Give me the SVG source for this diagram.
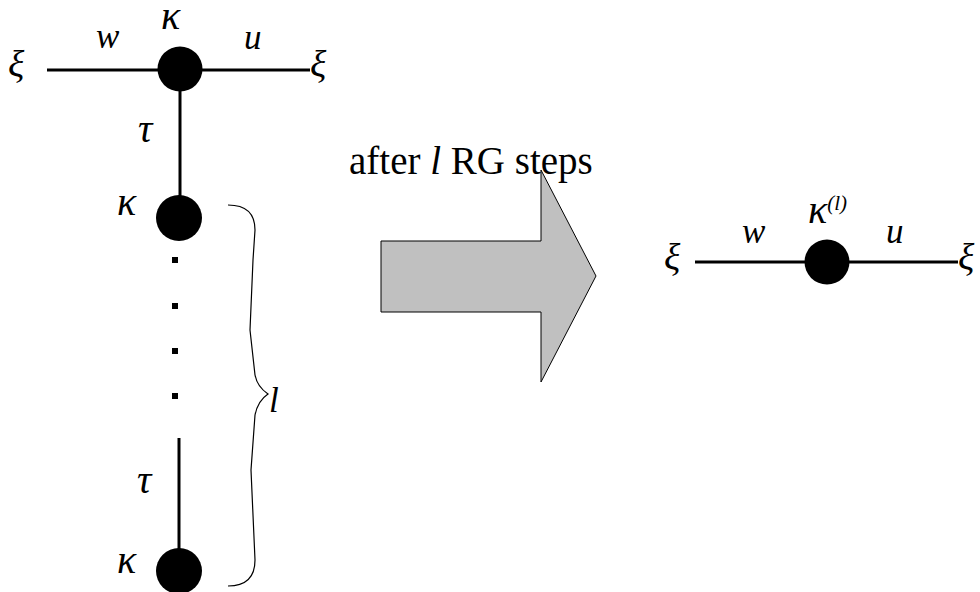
<svg xmlns="http://www.w3.org/2000/svg" width="980" height="592" viewBox="0 0 980 592">
<style>
.ln{stroke:#000;stroke-width:3;fill:none}
.nd{fill:#000}
.m{font-family:"Liberation Serif","Times New Roman",serif;font-style:italic;font-size:35px;fill:#000}
.x{font-size:38px}
.g{font-size:40px}
.t{font-family:"Liberation Serif","Times New Roman",serif;font-size:39px;fill:#000}
</style>
<rect width="980" height="592" fill="#fff"/>
<g id="connectors">
<line class="ln" x1="47" y1="70" x2="310" y2="70"/>
<line class="ln" x1="180" y1="70" x2="180" y2="218"/>
<line class="ln" x1="179" y1="438" x2="179" y2="560"/>
<line class="ln" x1="695" y1="262" x2="958" y2="262"/>
</g>
<g id="node-top">
<circle class="nd" cx="180" cy="69" r="22.5"/>
<text class="m g" x="161" y="29">κ</text>
</g>
<g id="node-2">
<circle class="nd" cx="179" cy="218" r="23"/>
<text class="m g" x="117" y="215">κ</text>
</g>
<g id="dots">
<rect x="172" y="257" width="6" height="6"/>
<rect x="172" y="303" width="6" height="6"/>
<rect x="172" y="348" width="6" height="6"/>
<rect x="172" y="393" width="6" height="6"/>
</g>
<g id="node-bottom">
<circle class="nd" cx="179" cy="571" r="23"/>
<text class="m g" x="117" y="573">κ</text>
</g>
<g id="labels-left">
<text class="m x" x="8" y="77">ξ</text>
<text class="m" x="96" y="48">w</text>
<text class="m" x="244" y="49">u</text>
<text class="m x" x="310" y="77">ξ</text>
<text class="m g" x="138" y="142">τ</text>
<text class="m g" x="137" y="493">τ</text>
</g>
<g id="brace">
<path d="M228,205 C246,205 255,213 255,230 L253,260 L250,330 L255,375 C257,385 262,390 268,394 C262,398 257,405 255,415 L251,470 L255,560 C255,578 246,586 228,586" fill="none" stroke="#000" stroke-width="1.2"/>
<text class="m" x="269" y="412" font-size="40">l</text>
</g>
<g id="arrow">
<polygon points="381,241 541,241 541,170 596,276 541,382 541,312 381,312" fill="#c0c0c0" stroke="#000" stroke-width="1"/>
<text class="t" x="349" y="174">after <tspan font-style="italic">l</tspan> RG steps</text>
</g>
<g id="node-result">
<circle class="nd" cx="827" cy="262" r="22.5"/>
<text class="m g" x="808" y="223">κ<tspan font-size="21" dy="-13">(l)</tspan></text>
</g>
<g id="labels-right">
<text class="m x" x="664" y="270">ξ</text>
<text class="m" x="742" y="243">w</text>
<text class="m" x="886" y="243">u</text>
<text class="m x" x="958" y="270">ξ</text>
</g>
</svg>
